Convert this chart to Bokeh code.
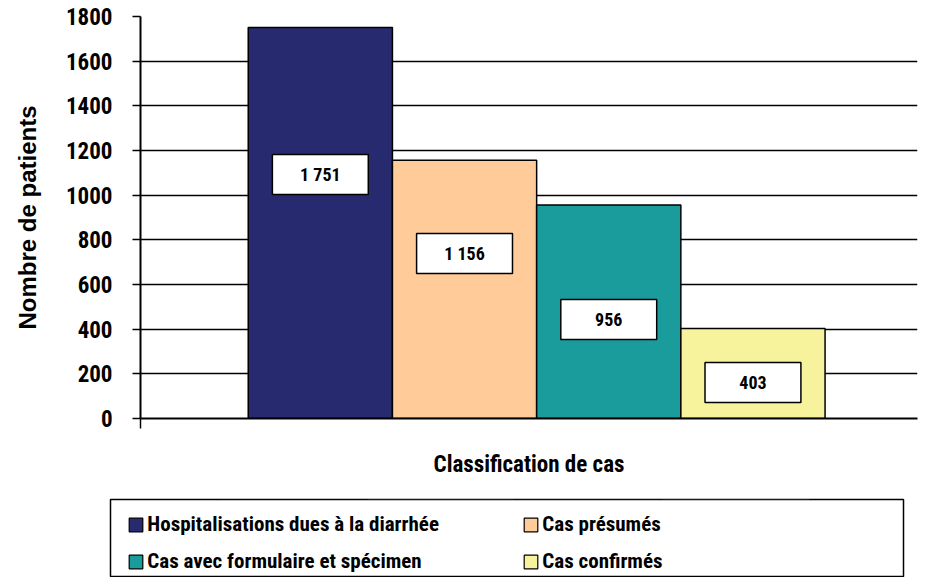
from bokeh.plotting import figure
from bokeh.layouts import column
from bokeh.models import Range1d, FixedTicker, Legend, LegendItem, ColumnDataSource
from bokeh.core.properties import value
from bokeh.embed import file_html
from bokeh.resources import INLINE

# ---- data ----
categories = ["Hospitalisations dues à la diarrhée", "Cas présumés",
              "Cas avec formulaire et spécimen", "Cas confirmés"]
counts = [1751, 1156, 956, 403]
colors = ["#282A70", "#FFCC99", "#1B9C9C", "#F7F39C"]
y_ticks = [0, 200, 400, 600, 800, 1000, 1200, 1400, 1600, 1800]
y_label = "Nombre de patients"
x_label = "Classification de cas"

# ---- layout constants ----
label_y = [1092, 739, 443, 161]   # vertical placement of the value boxes
NARROW = "Roboto Condensed, DejaVu Sans Condensed, Liberation Sans Narrow, Arial Narrow, Roboto"
WIDE = "Liberation Sans"

xs = [i + 0.5 for i in range(len(counts))]
texts = [f"{c:,}".replace(",", " ") for c in counts]

src = ColumnDataSource(dict(x=xs, top=counts, color=colors, cat=categories,
                            ly=label_y, txt=texts))

x_start, x_end = -0.747, 4.641
p = figure(width=925, height=497, output_backend="svg", toolbar_location=None,
           x_range=Range1d(x_start, x_end), y_range=Range1d(0, y_ticks[-1]),
           min_border_left=140, min_border_right=8, min_border_top=16,
           min_border_bottom=79, frame_align=False)
p.outline_line_color = None
p.background_fill_color = "white"
p.border_fill_color = "white"

p.vbar(x="x", top="top", width=1.0, bottom=0, fill_color="color",
       line_color="black", line_width=1.5, source=src)

# value boxes
p.rect(x="x", y="ly", width=0.665, height=40, height_units="screen", source=src,
       fill_color="white", line_color="black", line_width=1.5)
p.text(x="x", y="ly", text="txt", source=src, text_align="center",
       text_baseline="middle", text_font=value(NARROW), text_font_style="bold",
       text_font_size="18px", text_color="black")

# axes
p.xgrid.visible = False
p.ygrid.grid_line_color = "black"
p.ygrid.grid_line_width = 1.5
p.ygrid.ticker = FixedTicker(ticks=y_ticks)

ya = p.yaxis[0]
ya.ticker = FixedTicker(ticks=y_ticks)
ya.axis_line_width = 2
ya.major_tick_line_width = 1.5
ya.major_tick_out = 8
ya.major_tick_in = 0
ya.minor_tick_line_color = None
ya.major_label_standoff = 20
ya.major_label_text_font = NARROW
ya.major_label_text_font_style = "bold"
ya.major_label_text_font_size = "23px"
ya.major_label_text_color = "black"
ya.axis_label = y_label
ya.axis_label_text_font = WIDE
ya.axis_label_text_font_style = "bold"
ya.axis_label_text_font_size = "24px"
ya.axis_label_text_color = "black"
ya.axis_label_standoff = 22

xa = p.xaxis[0]
xa.ticker = FixedTicker(ticks=[x_start])
xa.axis_line_width = 2
xa.major_tick_line_width = 1.5
xa.major_tick_out = 10
xa.major_tick_in = 0
xa.minor_tick_line_color = None
xa.major_label_text_font_size = "1px"
xa.major_label_text_alpha = 0
xa.axis_label = x_label
xa.axis_label_text_font = NARROW
xa.axis_label_text_font_style = "bold"
xa.axis_label_text_font_size = "23px"
xa.axis_label_text_color = "black"
xa.axis_label_standoff = 22

# ---- legend panel (frame outline = legend border) ----
lg = figure(width=925, height=80, output_backend="svg", toolbar_location=None,
            x_range=Range1d(x_start, x_end), y_range=Range1d(-2, -1),
            x_axis_location=None, y_axis_location=None,
            min_border_left=110, min_border_right=22, min_border_top=2,
            min_border_bottom=0, frame_align=False)
lg.xgrid.visible = False
lg.ygrid.visible = False
lg.outline_line_color = "black"
lg.outline_line_width = 1.5
lg.background_fill_color = "white"
lg.border_fill_color = "white"
rs = []
for i in range(len(counts)):
    rs.append(lg.vbar(x=xs[i], top=counts[i], bottom=0, width=1.0,
                      fill_color=colors[i], line_color="black", line_width=1.2))

items = [LegendItem(label=categories[i], renderers=[rs[i]]) for i in range(4)]
legend = Legend(items=items, orientation="horizontal", ncols=2,
                location=(17.3, 4), glyph_width=17, glyph_height=17,
                label_standoff=3, label_width=362, label_height=21, spacing=13,
                padding=5, border_line_color=None, background_fill_alpha=0,
                label_text_font=NARROW, label_text_font_style="bold",
                label_text_font_size="21px", label_text_color="black")
lg.add_layout(legend, "center")

layout = column(p, lg, spacing=0)
open("out.html", "w").write(file_html(layout, INLINE))
